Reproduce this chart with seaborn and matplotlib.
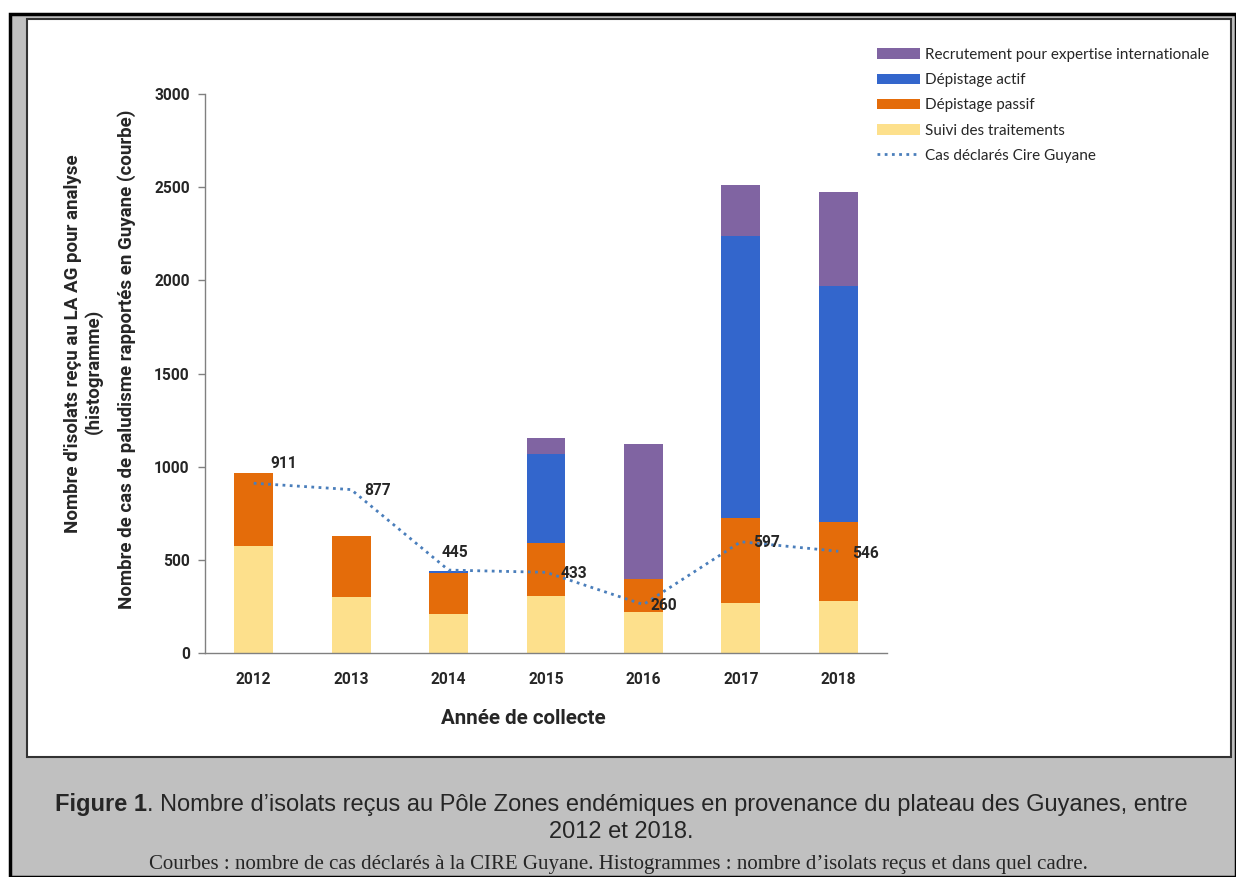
import numpy as np
import pandas as pd
import matplotlib
matplotlib.use("Agg")
import matplotlib.pyplot as plt
from matplotlib.patches import Rectangle
from matplotlib.lines import Line2D
from matplotlib.patches import Patch
import seaborn as sns

# Data
years = ["2012", "2013", "2014", "2015", "2016", "2017", "2018"]
suivi = [575, 300, 208, 308, 220, 268, 281]
passif = [392, 330, 220, 281, 175, 457, 424]
actif = [0, 0, 12, 477, 0, 1513, 1265]
recrutement = [0, 0, 0, 88, 725, 274, 504]
cas_declares = [911, 877, 445, 433, 260, 597, 546]

series_names = ["Recrutement pour expertise internationale", "Dépistage actif",
                "Dépistage passif", "Suivi des traitements"]
line_name = "Cas déclarés Cire Guyane"
colors = {"Recrutement pour expertise internationale": "#8064A2",
          "Dépistage actif": "#3366CC",
          "Dépistage passif": "#E46C0A",
          "Suivi des traitements": "#FDE08C"}
line_color = "#4A7EBB"

df = pd.DataFrame({"Année": years, "Suivi des traitements": suivi,
                   "Dépistage passif": passif, "Dépistage actif": actif,
                   "Recrutement pour expertise internationale": recrutement})
# cumulative heights for stacked bars (draw tallest first)
stack_order = ["Suivi des traitements", "Dépistage passif", "Dépistage actif",
               "Recrutement pour expertise internationale"]
cum = df[stack_order].cumsum(axis=1)

sns.set_style("white")
plt.rcParams['font.family'] = ['Lato', 'DejaVu Sans']

fig = plt.figure(figsize=(12.36, 8.77), dpi=100)
W, H = 1236, 877

def px(x, y):
    return x / W, 1 - y / H

# background frames
fig.patches.append(Rectangle(px(10, 877), (1236 - 10) / W, (877 - 14) / H,
                             transform=fig.transFigure, facecolor="#C0C0C0",
                             edgecolor="black", linewidth=2.5, zorder=-2))
fig.patches.append(Rectangle(px(27, 757), (1231 - 27) / W, (757 - 19) / H,
                             transform=fig.transFigure, facecolor="white",
                             edgecolor="#333333", linewidth=1.5, zorder=-1))

ax = fig.add_axes([205 / W, 1 - 653 / H, (887 - 205) / W, (653 - 94) / H])
ax.set_facecolor("none")
ax.set_zorder(2)

for name in reversed(stack_order):
    sns.barplot(x=df["Année"], y=cum[name], color=colors[name], width=0.4,
                linewidth=0, saturation=1, ax=ax, zorder=2)

xpos = np.arange(len(years))
ax.plot(xpos, cas_declares, color=line_color, linestyle=(0, (1, 1.6)),
        linewidth=2, zorder=3)

bold = dict(fontweight="bold", family=['Roboto', 'DejaVu Sans'])

# data labels
offsets = [(30, 20), (26, -1), (6, 18), (28, -1), (20, -1), (26, -1), (27, -2)]
for x, v, (dx, dy) in zip(xpos, cas_declares, offsets):
    ax.annotate(str(v), (x, v), xytext=(dx * 0.72, dy * 0.72),
                textcoords="offset points", ha="center", va="center",
                fontsize=11.2, zorder=4, **bold)

ax.set_xlim(-0.5, 6.5)
ax.set_ylim(0, 3000)
ax.set_yticks(range(0, 3001, 500))
ax.set_yticklabels([str(v) for v in range(0, 3001, 500)], fontsize=11.2, **bold)
ax.set_xticks(xpos)
ax.set_xticklabels(years, fontsize=11.2, **bold)
ax.tick_params(axis="x", length=0, pad=13.5)
ax.set_xticks(np.arange(-0.5, 7, 1), minor=True)
ax.tick_params(axis="x", which="minor", length=5, color="#808080", width=1)
ax.tick_params(axis="y", length=5, color="#808080", width=1, left=True, pad=6)
ax.set_xlabel("")
ax.set_ylabel("")
fig.text(*px(523, 718), "Année de collecte", fontsize=14.8, ha="center",
         va="center", **bold)
for s in ["top", "right"]:
    ax.spines[s].set_visible(False)
for s in ["left", "bottom"]:
    ax.spines[s].set_color("#808080")
    ax.spines[s].set_linewidth(1)

# y-axis titles
fig.text(*px(73, 344), "Nombre d'isolats reçu au LA AG pour analyse",
         rotation=90, ha="center", va="center", fontsize=13.5, **bold)
fig.text(*px(93, 371), "(histogramme)", rotation=90, ha="center",
         va="center", fontsize=13.5, **bold)
fig.text(*px(127, 359), "Nombre de cas de paludisme rapportés en Guyane (courbe)",
         rotation=90, ha="center", va="center", fontsize=13.5, **bold)

# legend
handles = [Patch(facecolor=colors[n], edgecolor="none") for n in series_names]
handles.append(Line2D([], [], color=line_color, linestyle=(0, (1, 1.6)),
                      linewidth=2))
fig.legend(handles, series_names + [line_name], loc="upper left",
           bbox_to_anchor=px(871, 42), frameon=False, fontsize=11,
           handlelength=2.8, handleheight=0.7, handletextpad=0.33,
           labelspacing=0.73, borderaxespad=0)

# caption
fig.canvas.draw()
r = fig.canvas.get_renderer()
cap_font = ['Liberation Sans', 'DejaVu Sans']
t1 = fig.text(0, 0, "Figure 1", fontsize=17, fontweight="bold", family=cap_font)
t2 = fig.text(0, 0, ". Nombre d’isolats reçus au Pôle Zones endémiques en provenance du plateau des Guyanes, entre",
              fontsize=17, family=cap_font)
w1 = t1.get_window_extent(r).width
w2 = t2.get_window_extent(r).width
x0 = 621 - (w1 + w2) / 2
ycap = 1 - 805 / H
t1.set_position((x0 / W, ycap))
t2.set_position(((x0 + w1) / W, ycap))
t1.set_va("center")
t2.set_va("center")
fig.text(*px(621, 832), "2012 et 2018.", fontsize=17, family=cap_font,
         ha="center", va="center")
fig.text(*px(618, 864), "Courbes : nombre de cas déclarés à la CIRE Guyane. Histogrammes : nombre d’isolats reçus et dans quel cadre.",
         fontsize=15, family=['Liberation Serif', 'DejaVu Serif'],
         ha="center", va="center")

fig.savefig("out.png", dpi=100)
